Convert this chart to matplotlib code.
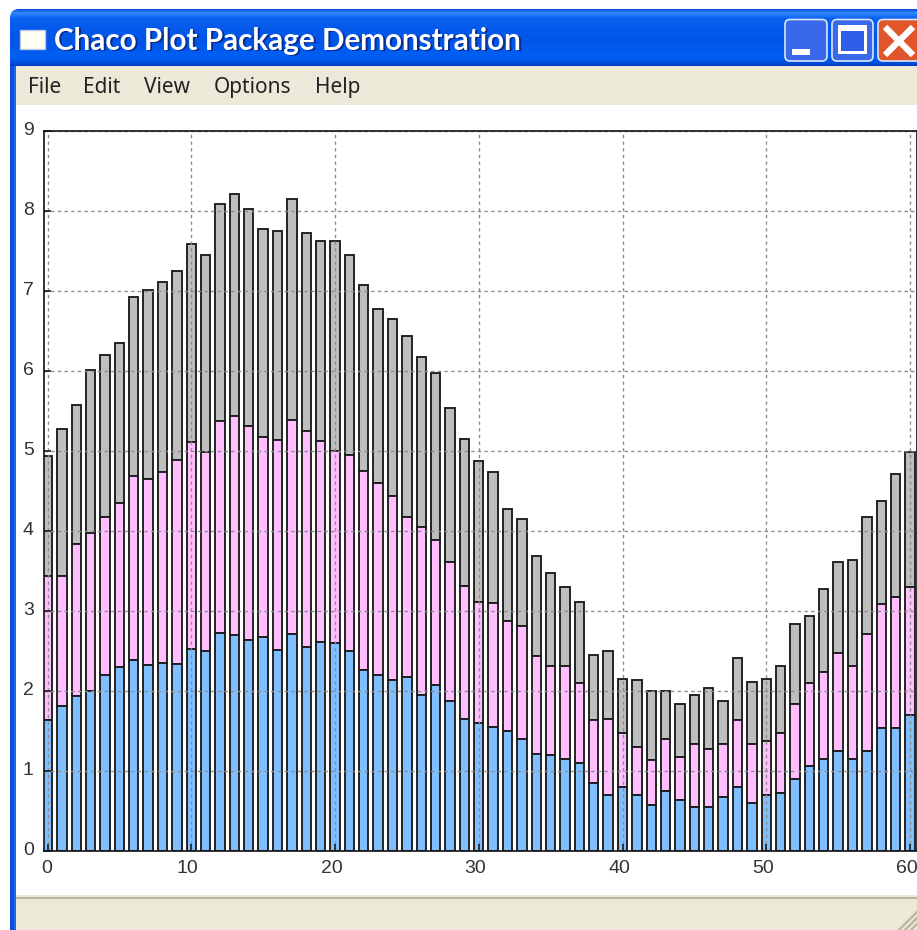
#!/usr/bin/env python3
# -*- coding: utf-8 -*-
"""Chaco demo window: stacked bars inside an XP style frame."""

import matplotlib
import matplotlib.pyplot as plt
import numpy as np
from matplotlib.colors import LinearSegmentedColormap
from matplotlib.patches import FancyBboxPatch, Rectangle
from matplotlib.transforms import ScaledTranslation

matplotlib.use("Agg")

W, H = 917, 930

x_values = list(range(61))

# top edge of each layer
blue_tops = [1.63, 1.81, 1.93, 2.00, 2.19, 2.30, 2.38, 2.32, 2.34, 2.33,
             2.52, 2.50, 2.72, 2.69, 2.63, 2.67, 2.51, 2.71, 2.55, 2.61,
             2.60, 2.50, 2.26, 2.19, 2.13, 2.17, 1.94, 2.07, 1.87, 1.65,
             1.59, 1.55, 1.50, 1.39, 1.21, 1.19, 1.15, 1.09, 0.85, 0.69,
             0.79, 0.69, 0.57, 0.75, 0.63, 0.55, 0.55, 0.67, 0.79, 0.60,
             0.70, 0.72, 0.90, 1.06, 1.15, 1.25, 1.15, 1.25, 1.53, 1.53,
             1.69]
pink_tops = [3.43, 3.43, 3.83, 3.97, 4.17, 4.35, 4.69, 4.65, 4.73, 4.89,
             5.11, 4.98, 5.37, 5.43, 5.31, 5.17, 5.13, 5.39, 5.25, 5.12,
             5.00, 4.95, 4.75, 4.60, 4.44, 4.17, 4.05, 3.88, 3.61, 3.31,
             3.11, 3.09, 2.87, 2.81, 2.43, 2.31, 2.31, 2.09, 1.63, 1.65,
             1.47, 1.30, 1.13, 1.39, 1.17, 1.33, 1.27, 1.33, 1.63, 1.33,
             1.37, 1.47, 1.83, 2.09, 2.23, 2.47, 2.31, 2.71, 3.08, 3.17,
             3.29]
gray_tops = [4.93, 5.27, 5.57, 6.01, 6.20, 6.35, 6.92, 7.01, 7.11, 7.25,
             7.59, 7.45, 8.09, 8.21, 8.03, 7.77, 7.75, 8.15, 7.73, 7.63,
             7.63, 7.45, 7.07, 6.77, 6.65, 6.43, 6.17, 5.97, 5.53, 5.15,
             4.87, 4.73, 4.27, 4.15, 3.69, 3.47, 3.29, 3.11, 2.45, 2.49,
             2.15, 2.13, 1.99, 1.99, 1.83, 1.95, 2.03, 1.87, 2.41, 2.11,
             2.15, 2.31, 2.83, 2.93, 3.27, 3.61, 3.63, 4.17, 4.37, 4.71,
             4.99]

x_ticks = [0, 10, 20, 30, 40, 50, 60]
y_ticks = [0, 1, 2, 3, 4, 5, 6, 7, 8, 9]
menu_items = ["File", "Edit", "View", "Options", "Help"]
menu_x = [28, 83, 144, 214, 315]
window_title = "Chaco Plot Package Demonstration"

BEIGE = "#ECE9D8"

fig = plt.figure(figsize=(W / 100, H / 100), dpi=100, facecolor="white")

# ---------------------------------------------------------------------------
# window frame, drawn in pixel coordinates
# ---------------------------------------------------------------------------
frame = fig.add_axes([0, 0, 1, 1])
frame.set_xlim(0, W)
frame.set_ylim(H, 0)
frame.axis("off")

title_cmap = LinearSegmentedColormap.from_list(
    "title",
    [(0.0, "#0A50D8"), (0.06, "#2F8BFF"), (0.16, "#0A5FF0"), (0.55, "#0054E6"),
     (0.85, "#0060F4"), (0.94, "#0052E0"), (1.0, "#003CC0")],
)
grad = np.linspace(0, 1, 64).reshape(-1, 1)
img = frame.imshow(grad, cmap=title_cmap, extent=(10, W + 20, 66, 9),
                   aspect="auto", zorder=1)
clip = FancyBboxPatch((10, 9), W + 20, 80, boxstyle="round,pad=0,rounding_size=9",
                      transform=frame.transData, fc="none", ec="none")
frame.add_patch(clip)
img.set_clip_path(clip)
frame.set_xlim(0, W)
frame.set_ylim(H, 0)

frame.add_patch(Rectangle((10, 66), 6, H - 66, fc="#0A4FE0", ec="none", zorder=1))
frame.add_patch(Rectangle((14, 66), 2, H - 66, fc="#1E66F0", ec="none", zorder=1))
frame.add_patch(Rectangle((16, 66), W - 16, 39, fc=BEIGE, ec="none", zorder=1))
frame.add_patch(Rectangle((16, 895), W - 16, 35, fc=BEIGE, ec="none", zorder=1))
frame.add_patch(Rectangle((16, 897), W - 16, 2, fc="#B8B5A2", ec="none", zorder=2))

# icon
frame.add_patch(Rectangle((20, 30), 25, 19, fc="#FFFFF4", ec="#B8C8E8", lw=1, zorder=3))

frame.text(56, 51, window_title, color="#0A2C90", fontsize=21.3, fontweight="bold",
           family="Lato", va="baseline", zorder=3)
frame.text(54.5, 50, window_title, color="white", fontsize=21.3, fontweight="bold",
           family="Lato", va="baseline", zorder=4)

# title bar buttons
for bx, bw, face in [(785, 42, "#3A68EA"), (832, 41, "#3A68EA"), (878, 44, "#E0552A")]:
    frame.add_patch(FancyBboxPatch((bx, 19.5), bw, 41.5,
                                   boxstyle="round,pad=0,rounding_size=5",
                                   fc=face, ec="#DCE6FA", lw=1.2, zorder=3))
frame.add_patch(Rectangle((792, 49), 18, 6, fc="white", ec="none", zorder=4))
frame.add_patch(Rectangle((838, 25), 29, 29, fc="white", ec="none", zorder=4))
frame.add_patch(Rectangle((841, 31), 23, 20, fc="#2F5FE8", ec="none", zorder=5))
frame.plot([885, 913], [27, 55], color="white", lw=4.5, solid_capstyle="butt", zorder=4)
frame.plot([913, 885], [27, 55], color="white", lw=4.5, solid_capstyle="butt", zorder=4)

for label, lx in zip(menu_items, menu_x):
    frame.text(lx, 93, label, color="#222222", fontsize=15, family="Noto Sans",
               va="baseline", zorder=3)

# size grip
for off in (6, 12, 18):
    frame.plot([W - off, W], [H, H - off], color="#B8B5A2", lw=1.6, zorder=3)

# ---------------------------------------------------------------------------
# plot
# ---------------------------------------------------------------------------
ax_left, ax_right, ax_top, ax_bottom = 43.5, 916.5, 131.0, 850.5
ax = fig.add_axes([ax_left / W, 1 - ax_bottom / H,
                   (ax_right - ax_left) / W, (ax_bottom - ax_top) / H])
ax.set_facecolor("white")

x_arr = np.array(x_values)
blue = np.array(blue_tops)
pink = np.array(pink_tops)
gray = np.array(gray_tops)

edge = "#1C1C1C"
ax.bar(x_arr, gray - pink, 0.66, bottom=pink, color="#BEBEBE", edgecolor=edge, linewidth=1.35, zorder=2)
ax.bar(x_arr, pink - blue, 0.66, bottom=blue, color="#FFBFFF", edgecolor=edge, linewidth=1.35, zorder=2)
ax.bar(x_arr, blue, 0.66, color="#80BFFF", edgecolor=edge, linewidth=1.35, zorder=2)

ax.set_xlim((ax_left - 47.5) / 14.375, (ax_right - 47.5) / 14.375)
ax.set_ylim(0, 9)
ax.set_xticks(x_ticks)
ax.set_yticks(y_ticks)
ax.grid(True, color="#8C8C8C", linestyle=(0, (2.4, 2.4)), linewidth=1.0, zorder=3)
ax.set_axisbelow(False)
ax.tick_params(axis="both", direction="in", length=5, width=1.1, color="#111111",
               labelsize=14, labelcolor="#333333", pad=7)

# labels sit slightly left of and above their ticks in the original
for lab, tick in zip(ax.get_xticklabels(), x_ticks):
    lab.set_family("Liberation Sans")
    dx = -1 if tick == 0 else -3.5
    lab.set_transform(lab.get_transform() + ScaledTranslation(dx / 100, 0, fig.dpi_scale_trans))
for lab in ax.get_yticklabels():
    lab.set_family("Liberation Sans")
    lab.set_transform(lab.get_transform() + ScaledTranslation(0, 2.5 / 100, fig.dpi_scale_trans))

for s in ax.spines.values():
    s.set_linewidth(1.2)
    s.set_color("#111111")
    s.set_zorder(5)
ax.spines["left"].set_linestyle((0, (2, 1)))

fig.savefig("out.png", dpi=100)
plt.close(fig)
